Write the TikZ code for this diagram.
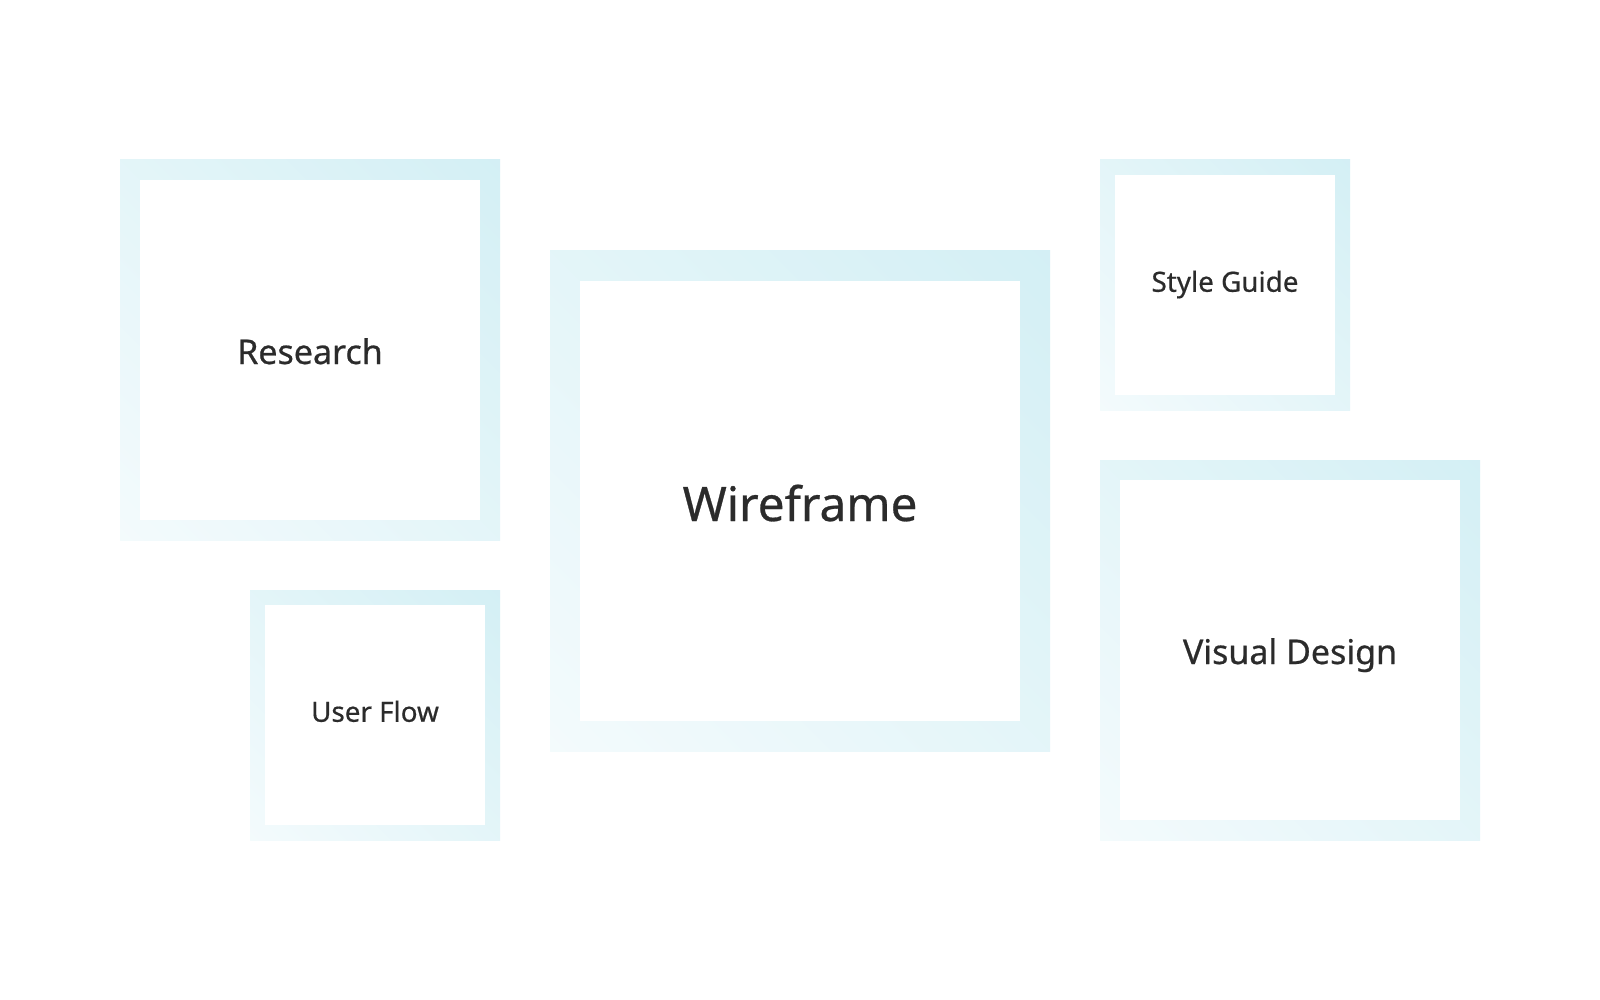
\documentclass[tikz,border=0pt]{standalone}
\usepackage{fontspec}
\setmainfont{Noto Sans}[FakeBold=0.6]
\usepackage{tikz}
\usepackage{xcolor}
\usetikzlibrary{positioning,shadings}
\definecolor{framecyan}{HTML}{CDEDF3}
\definecolor{framewhite}{HTML}{FAFDFE}
\definecolor{labelgrey}{HTML}{2B2B2B}
% corner to corner gradient of the frames
\pgfdeclarehorizontalshading{framefade}{100bp}{
  color(0bp)=(framewhite); color(100bp)=(framecyan)}
\tikzset{
  frame/.style  = {rectangle, inner sep=0pt, draw=none,
                   shading=framefade, shading angle=45},
  panel/.style  = {rectangle, inner sep=0pt, fill=white, text=labelgrey,
                   align=center, text depth=0pt},
  big/.style    = {font=\fontsize{47.5}{57}\selectfont, text height=40pt},
  medium/.style = {font=\fontsize{34}{41}\selectfont, text height=28pt},
  small/.style  = {font=\fontsize{27.8}{33}\selectfont, text height=13.5pt}
}

\begin{document}
\begin{tikzpicture}[x=1pt, y=-1pt]

% page, 1600 x 1000
\fill[white] (0,0) rectangle (1600,1000);
\useasboundingbox (0,0) rectangle (1600,1000);

% outer frames with the gradient
\node[frame, minimum size=380pt] (f-research) at (310,350) {};
\node[frame, minimum size=250pt] (f-flow)     at (375,715) {};
\node[frame, minimum size=500pt] (f-wire)     at (800,501) {};
\node[frame, minimum size=250pt] (f-style)    at (1225,285) {};
\node[frame, minimum size=380pt] (f-visual)   at (1290,650) {};

% white panels with the labels
\node[panel, medium, minimum size=340pt] (research) at (f-research) {Research};
\node[panel, small,  minimum size=220pt] (flow)     at (f-flow)     {User Flow};
\node[panel, big,    minimum size=440pt] (wire)     at (f-wire)     {Wireframe};
\node[panel, small,  minimum size=220pt] (style)    at (f-style)    {Style Guide};
\node[panel, medium, minimum size=340pt] (visual)   at (f-visual)   {Visual Design};

\end{tikzpicture}
\end{document}
